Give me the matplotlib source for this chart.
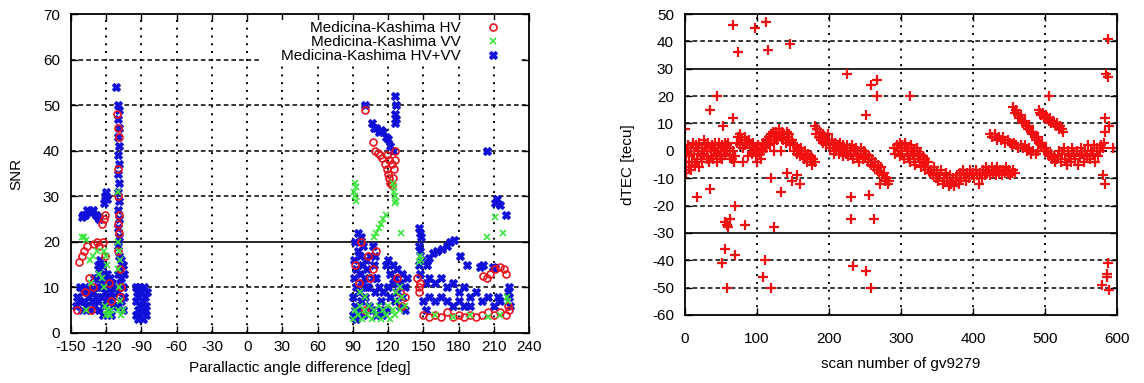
import numpy as np
import matplotlib
matplotlib.use("Agg")
import matplotlib.pyplot as plt
from matplotlib.patches import Rectangle

plt.rcParams['font.family'] = ['Liberation Sans', 'DejaVu Sans']
plt.rcParams['axes.unicode_minus'] = False

# ---------------- left panel: SNR vs parallactic angle difference ----------------
# (angle [deg], SNR)
hv_pts = [(-145, 5), (-143, 15.5), (-141, 17), (-139, 18), (-136, 19), (-133, 5), (-131, 10),
          (-130, 19.5), (-128, 20), (-126, 19), (-124, 24), (-122, 25), (-121, 26), (-123, 20),
          (-121, 17), (-118, 11), (-116, 7), (-135, 12), (-138, 9),
          (-111, 48), (-110, 45), (-109, 43), (-110, 36), (-110, 30), (-109, 26), (-110, 24),
          (-109, 22), (-110, 18), (-108, 14), (-107, 10), (-108, 8),
          (100, 49), (107, 42), (109, 40), (111, 39.5), (113, 39), (115, 38.5), (117, 37),
          (119, 36), (120, 35), (121, 34), (122, 33), (123, 32.5), (124, 34), (125, 36),
          (126, 38), (126, 40), (123, 37), (121, 38), (119, 39),
          (92, 15), (95, 11), (97, 20), (103, 17), (107, 14), (110, 18), (128, 12), (130, 9),
          (132, 6), (134, 8), (105, 12), (100, 5),
          (145, 12), (146, 10), (147, 11), (146, 9),
          (150, 4), (155, 3.5), (160, 4), (165, 3.5), (170, 4.5), (175, 3.5), (180, 4),
          (185, 3.5), (190, 4), (195, 3.5), (200, 4), (205, 4.5), (210, 4), (215, 4.5),
          (220, 4), (222, 6), (223, 5),
          (201, 12.5), (204, 12), (207, 13), (211, 14), (215, 14.5), (219, 14), (220, 13)]

vv_pts = [(-141, 21), (-139, 21), (-137, 20.5), (-134, 16), (-131, 17), (-128, 18), (-126, 13),
          (-124, 12), (-122, 10), (-120, 4), (-118, 4), (-116, 5), (-121, 6), (-119, 5),
          (-117, 4), (-122, 18), (-120, 17), (-119, 15), (-133, 11), (-137, 5),
          (-110, 20), (-109, 18), (-108, 16), (-110, 14), (-109, 10), (-108, 7), (-110, 5),
          (-107, 4), (-106, 5), (-110, 31),
          (92, 33), (93, 32), (92, 30), (93, 29), (91, 31),
          (108, 21), (110, 22), (112, 23), (114, 24), (116, 25), (118, 26), (131, 22),
          (124, 33), (125, 31), (126, 30), (127, 29), (126, 28.5), (125, 32),
          (90, 3), (92, 5), (94, 4), (96, 6), (98, 3), (100, 5), (102, 4), (104, 6), (106, 3),
          (108, 5), (110, 4), (112, 6), (114, 3), (116, 5), (118, 4), (120, 6), (122, 3),
          (124, 5), (126, 4), (128, 7), (130, 5), (132, 8), (134, 6), (96, 9), (100, 8),
          (127, 9), (130, 10),
          (147, 17), (148, 16), (146, 15.5),
          (204, 21), (211, 25.5), (218, 22), (222, 7), (221, 8),
          (160, 4), (175, 3.5), (190, 4), (205, 3.5), (215, 4)]

hvvv_pts = [(-146, 6), (-145, 8), (-143, 7), (-142, 10), (-141, 5), (-140, 9), (-139, 7),
            (-138, 10), (-137, 6), (-136, 9), (-135, 8), (-134, 5), (-133, 10), (-132, 7),
            (-131, 9), (-130, 6), (-129, 8), (-128, 10), (-127, 7), (-126, 5),
            (-141, 25.5), (-140, 26), (-138, 26), (-136, 27), (-134, 26.5), (-132, 26.5),
            (-131, 27), (-129, 26), (-127, 25.5), (-126, 25),
            (-122, 28.5), (-121, 30), (-120, 31), (-119, 29.5),
            (-127, 15), (-126, 14), (-125, 16), (-124, 15), (-125, 12), (-123, 11), (-122, 13),
            (-121, 12), (-120, 10), (-119, 13), (-118, 11), (-117, 12), (-116, 9), (-115, 11),
            (-124, 8), (-122, 6), (-120, 7), (-118, 5), (-116, 4), (-114, 6), (-123, 4),
            (-121, 9), (-119, 8), (-117, 7), (-115, 8), (-113, 10), (-126, 10), (-128, 12),
            (-130, 12),
            (-112, 54), (-110, 50), (-109, 49), (-110, 47), (-109, 45), (-110, 43), (-109, 41),
            (-110, 39), (-109, 37), (-110, 35), (-109, 33), (-110, 31), (-109, 29), (-110, 27),
            (-109, 25), (-110, 23), (-109, 21), (-110, 19), (-109, 17), (-107, 16), (-106, 15),
            (-105, 13), (-107, 12), (-106, 10), (-105, 8), (-107, 7), (-106, 5), (-110, 13),
            (-110, 9), (-110, 6), (-108, 11), (-108, 14),
            (-95, 4), (-95, 7), (-95, 10), (-93, 3), (-93, 5), (-93, 8), (-92, 10), (-91, 4),
            (-91, 6), (-90, 9), (-89, 3), (-89, 7), (-88, 10), (-87, 5), (-87, 8), (-86, 4),
            (-86, 6), (-85, 9), (-94, 9), (-90, 5),
            (90, 4), (90, 8), (91, 12), (91, 16), (92, 20), (92, 6), (93, 10), (93, 14),
            (94, 18), (94, 22), (95, 5), (95, 9), (96, 13), (96, 17), (97, 21), (97, 7),
            (98, 11), (98, 15), (99, 19), (99, 4), (100, 8), (100, 12), (101, 16), (101, 10),
            (93, 3),
            (100, 50), (106, 46), (108, 45), (110, 45), (112, 44), (114, 44.5), (116, 44),
            (118, 43), (120, 42.5), (122, 41), (124, 40),
            (126, 52), (127, 50), (126, 48), (127, 47), (126, 46),
            (118, 15), (120, 16), (122, 13), (124, 15), (126, 12), (128, 14), (130, 11),
            (132, 13), (134, 10), (136, 12), (120, 10), (122, 8), (124, 11), (126, 7),
            (128, 9), (130, 6), (132, 8), (134, 5), (119, 5), (116, 9), (114, 7), (112, 10),
            (110, 12), (104, 6), (103, 10), (102, 14), (105, 17), (107, 19), (108, 15),
            (109, 9), (106, 5), (110, 4), (113, 5), (115, 4), (107, 12), (109, 17),
            (146, 23), (147, 22), (148, 21), (146, 19), (147, 18), (148, 16), (146, 15),
            (147, 13),
            (150, 7), (152, 11), (153, 15), (155, 16.5), (158, 17.5), (162, 18), (166, 18.5),
            (170, 19), (173, 20), (176, 20.5), (181, 17), (187, 15), (198, 14.5), (211, 14.2),
            (155, 12), (160, 11), (165, 12), (170, 10), (175, 11), (180, 9), (185, 10),
            (190, 8), (195, 9), (200, 7), (205, 8), (210, 6), (155, 8), (160, 7), (165, 8),
            (170, 7), (175, 6), (180, 7), (185, 6), (190, 6), (152, 5), (215, 7),
            (223, 10), (223, 8), (224, 6), (222, 9),
            (204, 40), (211, 28.5), (213, 29.5), (215, 28), (220, 26),
            (201, 15), (209, 14.5), (214, 8)]

snr_xticks = np.arange(-150, 241, 30)
snr_yticks = np.arange(0, 71, 10)

# ---------------- right panel: dTEC vs scan number ----------------
# (scan, dTEC [tecu])
tec_band = [(1, -8), (2, -4), (3, 0), (4, 2), (5, -6), (6, -2), (8, 1), (9, -7), (10, -4), (11, 3),
            (12, -1), (14, -5), (15, 2), (16, -3), (18, 0), (19, -6), (20, 3), (22, -2), (23, 1),
            (24, -4), (26, 4), (27, -1), (28, 2), (30, -3), (31, 0), (32, 3), (34, -4), (35, 1),
            (36, -2), (38, 2), (39, -3), (40, 0), (42, 3), (43, -1), (44, -4), (46, 1), (47, 3),
            (48, -2), (50, 0), (51, 2), (52, -3), (54, 1), (55, 3), (56, -1), (58, 2), (59, 0),
            (60, 3), (62, -2), (63, 1), (65, -3), (66, 0), (68, -4), (70, -2),
            (72, 3), (74, 5), (76, 2), (77, 6), (79, 4), (80, -4), (81, 1), (83, 5), (84, 2),
            (86, 3), (88, -2), (89, 4), (90, 1), (92, 2), (93, -1), (95, 3), (96, 0), (98, 1),
            (99, -2), (100, -4),
            (101, 0), (102, 2), (104, -1), (105, -3), (106, 1), (108, 3), (109, 0), (110, 2),
            (112, 4), (113, 1), (115, 3), (116, 5), (118, 2), (119, 6), (120, 4), (122, 7),
            (123, 3), (125, 5), (126, 7), (128, 4), (130, 6), (131, 8), (133, 5), (135, 7),
            (136, 4), (138, 6), (140, 3),
            (141, 7), (143, 5), (145, 6), (146, 2), (148, 4), (150, 3), (151, 0), (153, 2),
            (155, 1), (156, -1), (158, 0), (160, -2), (161, 1), (163, -1), (165, -3), (166, 0),
            (168, -2), (170, -4), (171, -1), (173, -3), (175, -2), (177, -5), (178, -3), (180, -4),
            (181, 9), (182, 6), (184, 8), (186, 5), (187, 7), (189, 4), (191, 6), (192, 3),
            (194, 5), (196, 2), (197, 4), (199, 6), (200, 3), (202, 1), (204, 4), (205, 2),
            (207, -1), (209, 3), (210, 0), (212, 2), (214, -1), (215, 3), (217, 1), (219, -2),
            (220, 2), (222, 0), (224, -1), (225, 2), (227, -2), (229, 1), (230, -1), (232, 2),
            (234, -3), (235, 0), (237, 1), (239, -2), (240, 0), (242, -4), (244, -1), (245, 1),
            (247, -3), (249, 0), (250, -2),
            (252, -1), (254, -4), (256, -2), (258, -5), (260, -3), (262, -6), (264, -4),
            (266, -7), (268, -5), (270, -8), (272, -6), (274, -9), (276, -8), (278, -11),
            (280, -10), (282, -12), (284, -11),
            (290, 1), (292, -1), (294, 2), (296, 0), (298, -2), (300, 1), (302, -1), (304, -3),
            (306, 2), (308, 0), (310, -2), (312, -4), (314, 1), (316, -1), (318, -3), (320, -5),
            (322, 0), (324, -2), (326, -4), (328, -6), (330, -3), (332, -5), (334, -7),
            (336, -4), (338, -6), (340, -8),
            (298, 3), (302, 2), (306, 3), (310, 1), (314, 2), (318, 0), (322, 1), (326, -1),
            (330, -2), (334, -3), (338, -4),
            (342, -7), (344, -9), (346, -6), (348, -10), (350, -8), (352, -11), (354, -9),
            (356, -7), (358, -12), (360, -10), (362, -8), (364, -11), (366, -13), (368, -9),
            (370, -12), (372, -10), (374, -13), (376, -11), (378, -9), (380, -12), (382, -8),
            (384, -10), (386, -7), (388, -9), (390, -11), (392, -8), (394, -10), (396, -7),
            (398, -9), (400, -8), (402, -10), (404, -7), (406, -9), (408, -12), (410, -8),
            (412, -10), (414, -7), (416, -9), (418, -6), (420, -8), (422, -7), (424, -9),
            (426, -6), (428, -8), (430, -7), (432, -9), (434, -6), (436, -8), (438, -7),
            (440, -9), (442, -7), (444, -8), (446, -6), (448, -8), (450, -7), (452, -9),
            (454, -8), (456, -7), (458, -8),
            (424, 6), (427, 5), (430, 6), (433, 4), (436, 5), (439, 4), (442, 5), (445, 3),
            (448, 4), (451, 3), (454, 2), (457, 3), (460, 2), (463, 1), (466, 2), (469, 1),
            (472, 2), (475, 0), (478, 1), (481, -1), (484, 0), (487, -1), (490, 0),
            (456, 16), (458, 14), (460, 15), (462, 13), (464, 12), (466, 13), (468, 11),
            (470, 10), (472, 11), (474, 9), (476, 8), (478, 9), (480, 7), (482, 6), (484, 7),
            (486, 5), (488, 4), (490, 5), (492, 3), (494, 2), (496, 3), (498, 1), (500, 0),
            (502, 1), (504, -1), (506, -2), (508, -1), (510, -3), (512, -2), (514, -4), (516, -3),
            (491, 15), (493, 14), (495, 13), (497, 14), (499, 12), (501, 13), (503, 12),
            (505, 11), (507, 12), (509, 10), (511, 11), (513, 10), (515, 9), (517, 10),
            (519, 8), (521, 9), (523, 8), (525, 7),
            (518, -2), (520, 0), (522, -4), (524, -1), (526, 1), (528, -3), (530, -5), (532, 0),
            (534, -2), (536, -4), (538, 1), (540, -1), (542, -3), (544, 0), (546, -5), (548, -2),
            (550, 1), (552, -1), (554, -4), (556, 0), (558, -2), (560, 2), (562, -3), (564, 0),
            (566, -1), (568, 2), (570, -4), (572, 1), (574, -2), (576, 0), (578, 2), (580, 1),
            (582, 3)]

tec_outliers = [(67, 46), (97, 45), (113, 47), (74, 36), (115, 37), (146, 39), (225, 28),
                (259, 24), (266, 26), (266, 20), (252, 13), (44, 20), (35, 15), (67, 12), (53, 9),
                (0, 8), (16, -17), (35, -14), (69, -20), (56, -26), (60, -28), (58, -27),
                (62, -25), (83, -27), (123, -28), (56, -36), (69, -38), (51, -41), (58, -50),
                (111, -40), (109, -46), (120, -50), (120, -10), (141, -8), (148, -11), (155, -9),
                (160, -12), (134, -15), (123, 0), (134, 0), (231, -17), (255, -16), (231, -25),
                (262, -25), (234, -42), (252, -44), (258, -50), (271, -12), (312, 20), (505, 20),
                (588, 41), (585, 28), (588, 27), (583, 12), (589, 9), (583, 7), (595, 1),
                (583, -12), (581, -9), (588, -41), (586, -45), (586, -46), (579, -49), (589, -51)]

tec_xticks = np.arange(0, 601, 100)
tec_yticks = np.arange(-60, 51, 10)


def style_axes(ax):
    for s in ax.spines.values():
        s.set_linewidth(1.3)
        s.set_zorder(6)
    ax.tick_params(direction='in', top=True, right=True, length=5, width=1,
                   labelsize=11)


fig = plt.figure(figsize=(11.44, 3.83), dpi=100)

# ---- left ----
ax1 = fig.add_axes([71 / 1144, 50 / 383, 458 / 1144, 319 / 383])
style_axes(ax1)
ax1.tick_params(axis='y', pad=8)
ax1.tick_params(axis='x', pad=5)
for xv in snr_xticks[1:-1]:
    ax1.axvline(xv, color='black', lw=1.4, ls=(0, (1, 3)), zorder=1)
for yv in snr_yticks[1:-1]:
    if yv == 20:
        ax1.axhline(yv, color='black', lw=1.2, zorder=1)
    else:
        ax1.axhline(yv, color='black', lw=1.1, ls=(0, (3, 2)), zorder=1)

hv = np.array(hv_pts)
vv = np.array(vv_pts)
hvvv = np.array(hvvv_pts)
ax1.plot(hv[:, 0], hv[:, 1], ls='none', marker='o', ms=5, mfc='none', mec='#e8141e',
         mew=1.2, label='Medicina-Kashima HV', zorder=3)
ax1.plot(vv[:, 0], vv[:, 1], ls='none', marker='x', ms=5, mec='#3ce63c', mew=1.2,
         label='Medicina-Kashima VV', zorder=3)
ax1.plot(hvvv[:, 0], hvvv[:, 1], ls='none', marker='X', ms=6, mfc='#1010d8', mec='#1010d8',
         mew=0.8, label='Medicina-Kashima HV+VV', zorder=2)

ax1.set_xlim(-150, 240)
ax1.set_ylim(0, 70)
ax1.set_xticks(snr_xticks)
ax1.set_yticks(snr_yticks)
ax1.set_xlabel('Parallactic angle difference [deg]', fontsize=11, labelpad=5)
ax1.set_ylabel('SNR', fontsize=11, labelpad=14)

# blank key area, as the plotting program clears it behind the key
ax1.add_patch(Rectangle((0.413, 0.846), 0.567, 0.135, transform=ax1.transAxes,
                        facecolor='white', edgecolor='none', zorder=4))
leg = ax1.legend(loc='upper right', bbox_to_anchor=(0.937, 0.978), markerfirst=False,
                 frameon=False, fontsize=11, handlelength=1.0, handletextpad=1.6,
                 labelspacing=0.0, borderpad=0.0, borderaxespad=0.0)
leg.set_zorder(5)

# ---- right ----
ax2 = fig.add_axes([685 / 1144, 68 / 383, 432 / 1144, 301 / 383])
style_axes(ax2)
ax2.tick_params(axis='y', pad=8)
ax2.tick_params(axis='x', pad=12)
for xv in tec_xticks[1:-1]:
    ax2.axvline(xv, color='black', lw=1.4, ls=(0, (1, 3)), zorder=1)
for yv in tec_yticks[1:-1]:
    if abs(yv) == 30:
        ax2.axhline(yv, color='black', lw=1.2, zorder=1)
    elif yv == 0:
        ax2.axhline(yv, color='black', lw=1.4, ls=(0, (1, 3)), zorder=1)
    else:
        ax2.axhline(yv, color='black', lw=1.1, ls=(0, (3, 2)), zorder=1)

band = np.array(tec_band)
outl = np.array(tec_outliers)
ax2.plot(band[:, 0], band[:, 1], ls='none', marker='+', ms=7, mec='#f01010', mew=1.6, zorder=3)
ax2.plot(outl[:, 0], outl[:, 1], ls='none', marker='+', ms=7, mec='#f01010', mew=1.6, zorder=3)

ax2.set_xlim(0, 600)
ax2.set_ylim(-60, 50)
ax2.set_xticks(tec_xticks)
ax2.set_yticks(tec_yticks)
ax2.set_xlabel('scan number of gv9279', fontsize=11, labelpad=8)
ax2.set_ylabel('dTEC [tecu]', fontsize=11, labelpad=12)

fig.savefig('out.png', dpi=100)
